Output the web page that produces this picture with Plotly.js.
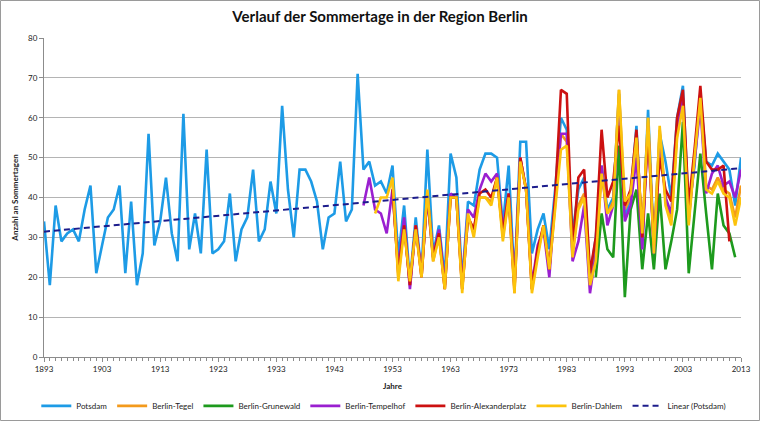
<!DOCTYPE html>
<html>
<head>
<meta charset="utf-8">
<script src="https://cdn.plot.ly/plotly-3.0.1.min.js"></script>
<style>
  html, body { margin: 0; padding: 0; background: #ffffff; }
  #chart { width: 760px; height: 421px; }
</style>
</head>
<body>
<div id="chart"></div>
<script>
// Anzahl der Sommertage (Tmax >= 25 °C) je Jahr und Station
const potsdamStart = 1893;
const potsdam = [
  34, 18, 38, 29, 31, 32, 29, 37, 43, 21,   // 1893-1902
  28, 35, 37, 43, 21, 39, 18, 26, 56, 28,   // 1903-1912
  34, 45, 31, 24, 61, 27, 36, 26, 52, 26,   // 1913-1922
  27, 29, 41, 24, 32, 35, 47, 29, 32, 44,   // 1923-1932
  36, 63, 42, 30, 47, 47, 44, 39, 27, 35,   // 1933-1942
  36, 49, 34, 37, 71, 47, 49, 43, 44, 41,   // 1943-1952
  48, 25, 38, 19, 35, 21, 52, 26, 33, 20,   // 1953-1962
  51, 45, 19, 39, 38, 47, 51, 51, 50, 33,   // 1963-1972
  48, 19, 54, 54, 26, 32, 36, 27, 42, 60,   // 1973-1982
  57, 31, 42, 45, 20, 30, 48, 37, 40, 66,   // 1983-1992
  35, 40, 58, 28, 62, 28, 56, 49, 40, 60,   // 1993-2002
  68, 36, 48, 66, 49, 48, 51, 49, 47, 38,   // 2003-2012
  50                                        // 2013
];

const tegelStart = 1953;
const tegel = [
  44, 20, 33, 18, 33, 20, 41, 24, 31, 17,   // 1953-1962
  40, 40, 17, 35, 32, 40, 40, 39, 45, 30,   // 1963-1972
  40, 16, 50, 42, 17, 26, 33, 22, 38, 56,   // 1973-1982
  54, 26, 38, 41, 18, 25, 47, 36, 39, 67,   // 1983-1992
  37, 40, 56, 30, 60, 27, 57, 40, 34, 56,   // 1993-2002
  64, 34, 50, 66, 43, 42, 45, 42, 41, 35,   // 2003-2012
  43                                        // 2013
];

const grunewaldStart = 1988;
const grunewald = [
  20, 36, 27, 25, 53, 15, 37, 42, 22, 36,   // 1988-1997
  22, 41, 22, 29, 37, 59, 21, 37, 51, 36,   // 1998-2007
  22, 41, 33, 31, 25                        // 2008-2012
];

const tempelhofStart = 1948;
const tempelhof = [
  38, 45, 37, 36, 31,                       // 1948-1952
  42, 22, 35, 17, 33, 21, 40, 25, 32, 18,   // 1953-1962
  41, 40, 18, 37, 35, 42, 46, 44, 46, 32,   // 1963-1972
  41, 18, 50, 42, 18, 28, 32, 20, 40, 56,   // 1973-1982
  56, 24, 29, 38, 16, 26, 48, 33, 38, 64,   // 1983-1992
  34, 38, 50, 27, 58, 26, 54, 40, 36, 57,   // 1993-2002
  65, 35, 49, 63, 41, 46, 48, 43, 44, 40,   // 2003-2012
  47                                        // 2013
];

const alexanderplatzStart = 1953;
const alexanderplatz = [
  42, 21, 33, 18, 33, 20, 41, 25, 31, 17,   // 1953-1962
  40, 40, 17, 35, 32, 41, 42, 40, 45, 31,   // 1963-1972
  41, 17, 50, 42, 17, 27, 33, 22, 40, 67,   // 1973-1982
  66, 27, 45, 47, 21, 30, 57, 40, 44, 58,   // 1983-1992
  38, 42, 57, 30, 57, 28, 50, 42, 39, 60,   // 1993-2002
  67, 38, 52, 68, 49, 47, 47, 48, 29        // 2003-2011
];

const dahlemStart = 1950;
const dahlem = [
  36, 40, 40,                               // 1950-1952
  45, 19, 32, 19, 32, 20, 42, 24, 30, 17,   // 1953-1962
  40, 40, 16, 36, 30, 40, 40, 38, 45, 29,   // 1963-1972
  40, 16, 49, 42, 16, 25, 33, 22, 38, 52,   // 1973-1982
  53, 25, 37, 40, 18, 24, 46, 36, 38, 67,   // 1983-1992
  39, 41, 55, 31, 60, 26, 58, 38, 33, 55,   // 1993-2002
  63, 33, 50, 65, 42, 41, 44, 41, 40, 33,   // 2003-2012
  40                                        // 2013
];

const tickYears = [1893, 1903, 1913, 1923, 1933, 1943, 1953, 1963, 1973, 1983, 1993, 2003, 2013];

function yearsFrom(start, values) {
  return values.map((_, i) => start + i);
}

// least-squares trend over the Potsdam series
function linearFit(xs, ys) {
  const n = xs.length;
  const mx = xs.reduce((a, b) => a + b, 0) / n;
  const my = ys.reduce((a, b) => a + b, 0) / n;
  let sxy = 0, sxx = 0;
  for (let i = 0; i < n; i++) {
    sxy += (xs[i] - mx) * (ys[i] - my);
    sxx += (xs[i] - mx) * (xs[i] - mx);
  }
  const slope = sxy / sxx;
  return x => my + slope * (x - mx);
}

const potsdamYears = yearsFrom(potsdamStart, potsdam);
const trend = linearFit(potsdamYears, potsdam);
const trendX = [potsdamYears[0], potsdamYears[potsdamYears.length - 1]];
const trendY = trendX.map(trend);

const LW = 2.6;
function lineTrace(name, start, values, color) {
  return {
    type: 'scatter', mode: 'lines', name: name,
    x: yearsFrom(start, values), y: values,
    line: { color: color, width: LW }
  };
}

const traces = [
  lineTrace('Potsdam', potsdamStart, potsdam, '#1d9be6'),
  lineTrace('Berlin-Tegel', tegelStart, tegel, '#f39a1c'),
  lineTrace('Berlin-Grunewald', grunewaldStart, grunewald, '#1d9a1d'),
  lineTrace('Berlin-Tempelhof', tempelhofStart, tempelhof, '#9a1fd0'),
  lineTrace('Berlin-Alexanderplatz', alexanderplatzStart, alexanderplatz, '#cc1111'),
  lineTrace('Berlin-Dahlem', dahlemStart, dahlem, '#fcc30c'),
  {
    type: 'scatter', mode: 'lines', name: 'Linear (Potsdam)',
    x: trendX, y: trendY,
    line: { color: '#1c1c8c', width: 2, dash: '6px,4px' }
  }
];

const FONT = 'Lato, "Open Sans", sans-serif';

const layout = {
  width: 760, height: 421,
  paper_bgcolor: '#ffffff', plot_bgcolor: '#ffffff',
  margin: { l: 44, r: 19, t: 38, b: 64, autoexpand: false },
  font: { family: FONT, size: 8, color: '#222222' },
  title: {
    text: '<b>Verlauf der Sommertage in der Region Berlin</b>',
    font: { family: FONT, size: 15, color: '#111111' },
    x: 0.5, xanchor: 'center', y: 0.96, yanchor: 'middle'
  },
  xaxis: {
    range: [1893, 2013],
    tickmode: 'array', tickvals: tickYears, ticktext: tickYears.map(String),
    ticks: 'outside', ticklen: 4, tickcolor: '#8c8c8c',
    minor: { dtick: 1, tick0: 1893, ticks: 'outside', ticklen: 3, tickcolor: '#8c8c8c', showgrid: false },
    showgrid: false, zeroline: false,
    showline: true, linecolor: '#8c8c8c', linewidth: 1,
    tickfont: { family: FONT, size: 8, color: '#222222' },
    title: { text: '<b>Jahre</b>', font: { family: FONT, size: 8, color: '#222222' } }
  },
  yaxis: {
    range: [0, 80], dtick: 10, tick0: 0,
    ticks: 'outside', ticklen: 4, tickcolor: '#8c8c8c',
    showgrid: true, gridcolor: '#b4b4b4', gridwidth: 1,
    zeroline: false,
    showline: true, linecolor: '#8c8c8c', linewidth: 1,
    tickfont: { family: FONT, size: 8, color: '#222222' },
    title: { text: '<b>Anzahl an Sommertagen</b>', font: { family: FONT, size: 8, color: '#222222' } }
  },
  legend: {
    orientation: 'h', xref: 'container', yref: 'container',
    x: 0.505, xanchor: 'center', y: 0.036, yanchor: 'middle',
    font: { family: FONT, size: 8, color: '#222222' },
    itemwidth: 30, tracegroupgap: 0, bgcolor: 'rgba(0,0,0,0)'
  },
  shapes: [{
    type: 'rect', xref: 'paper', yref: 'paper',
    x0: (0.5 - 44) / 697, x1: (759.5 - 44) / 697,
    y0: (357 - 420.5) / 319, y1: (357 - 0.5) / 319,
    line: { color: '#9a9a9a', width: 1 }, fillcolor: 'rgba(0,0,0,0)', layer: 'below'
  }],
  showlegend: true
};

Plotly.newPlot('chart', traces, layout, { displayModeBar: false, staticPlot: true });
</script>
</body>
</html>
